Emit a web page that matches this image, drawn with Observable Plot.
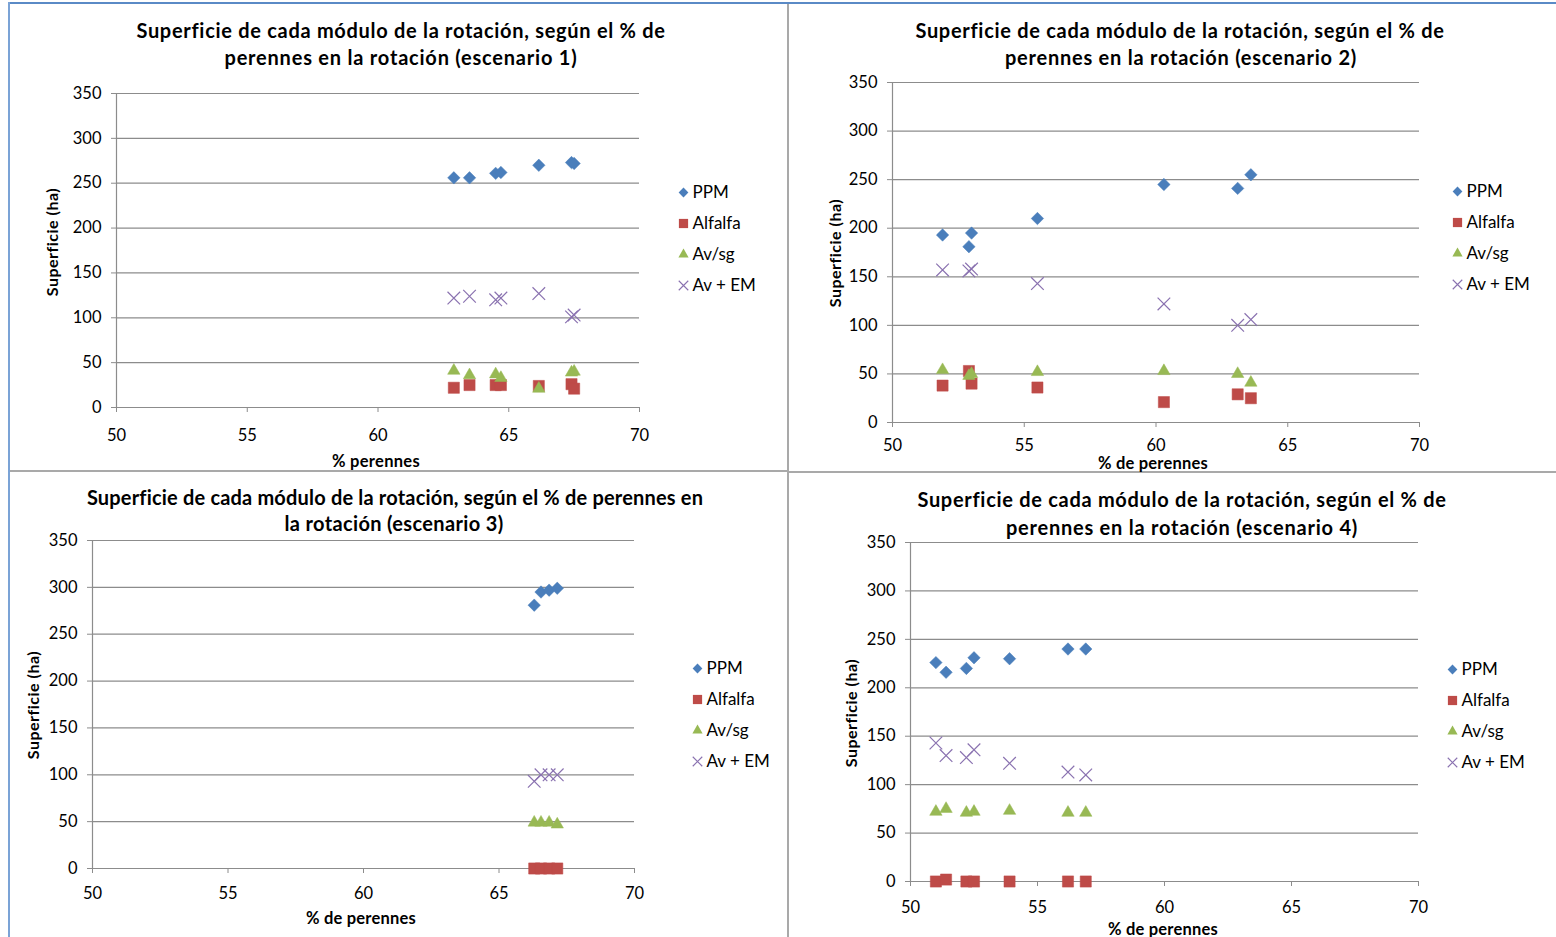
<!DOCTYPE html>
<html><head><meta charset="utf-8">
<script src="https://cdn.jsdelivr.net/npm/d3@7"></script>
<script src="https://cdn.jsdelivr.net/npm/@observablehq/plot@0.6"></script>
<style>
body{margin:0;background:#fff;width:1556px;height:937px;overflow:hidden;position:relative;font-family:Lato,"Open Sans",sans-serif;color:#000;}
.abs{position:absolute;}
.tline{position:absolute;font-weight:bold;font-size:20px;white-space:nowrap;transform:translate(-50%,-50%);line-height:1;}
.xlab{position:absolute;font-weight:bold;font-size:16.5px;white-space:nowrap;transform:translate(-50%,-50%);line-height:1;}
.ylab{position:absolute;font-weight:bold;font-size:16px;white-space:nowrap;transform:translate(-50%,-50%) rotate(-90deg);line-height:1;}
svg{position:absolute;overflow:visible;}
</style>
</head><body>
<div class="abs" style="left:8px;top:2px;width:1548px;height:2px;background:#5a8ac6"></div>
<div class="abs" style="left:8px;top:2px;width:2px;height:935px;background:#7ba3d6"></div>
<div class="abs" style="left:787px;top:4px;width:2px;height:933px;background:#a9a9a9"></div>
<div class="abs" style="left:10px;top:470px;width:777px;height:2px;background:#a9a9a9"></div>
<div class="abs" style="left:789px;top:471px;width:767px;height:2px;background:#a9a9a9"></div>
<script>
// ---- data ----
const seriesNames = ["PPM", "Alfalfa", "Av/sg", "Av + EM"];
const seriesColors = ["#4a7ebb", "#be4b48", "#98b954", "#8a72b0"];
const seriesSymbols = ["diamond2", "square", "triangle", "times"];
const xTicks = [50, 55, 60, 65, 70];
const yTicks = [0, 50, 100, 150, 200, 250, 300, 350];

const titles = [
  ["Superficie de cada módulo de la rotación, según el % de", "perennes en la rotación (escenario 1)"],
  ["Superficie de cada módulo de la rotación, según el % de", "perennes en la rotación (escenario 2)"],
  ["Superficie de cada módulo de la rotación, según el % de perennes en", "la rotación (escenario 3)"],
  ["Superficie de cada módulo de la rotación, según el % de", "perennes en la rotación (escenario 4)"]
];
const xLabels = ["% perennes", "% de perennes", "% de perennes", "% de perennes"];
const yLabel = "Superficie  (ha)";

// escenario 1
const x1 = [62.9, 63.5, 64.5, 64.7, 66.15, 67.4, 67.5];
const ppm1 = [256, 256, 261, 262, 270, 273, 272];
const alf1 = [22, 25, 25, 25, 24, 26, 21];
const avsg1 = [41, 36, 37, 33, 21, 39, 40];
const avem1 = [122, 124, 120, 122, 127, 101, 103];
// escenario 2
const x2 = [51.9, 52.9, 53.0, 55.5, 60.3, 63.1, 63.6];
const ppm2 = [193, 181, 195, 210, 245, 241, 255];
const alf2 = [38, 53, 40, 36, 21, 29, 25];
const avsg2 = [54, 48, 50, 52, 53, 50, 41];
const avem2 = [157, 156, 158, 143, 122, 100, 106];
// escenario 3
const x3 = [66.3, 66.55, 66.85, 67.15];
const ppm3 = [281, 295, 297, 299];
const alf3 = [0, 0, 0, 0];
const avsg3 = [49, 49, 49, 47];
const avem3 = [93, 100, 100, 100];
// escenario 4
const x4 = [51.0, 51.4, 52.2, 52.5, 53.9, 56.2, 56.9];
const ppm4 = [226, 216, 220, 231, 230, 240, 240];
const alf4 = [0, 2, 0, 0, 0, 0, 0];
const avsg4 = [72, 75, 71, 72, 73, 71, 71];
const avem4 = [143, 130, 128, 136, 122, 113, 110];

// ---- layout ----
const panels = [
  {xs: x1, ys: [ppm1, alf1, avsg1, avem1], f: {x0: 116, x1: 639, y0: 93, y1: 407}, xpad: 17, leg: {x: 683, y: 192},
   title: [{x: 401, y: 30, w: 529}, {x: 401, y: 57, w: 353}], xl: {x: 376, y: 461, w: 88}, yl: {x: 52, y: 242, w: 109}},
  {xs: x2, ys: [ppm2, alf2, avsg2, avem2], f: {x0: 892, x1: 1419, y0: 82, y1: 422}, xpad: 12, leg: {x: 1457, y: 191},
   title: [{x: 1180, y: 30, w: 529}, {x: 1181, y: 57, w: 352}], xl: {x: 1153, y: 463, w: 110}, yl: {x: 835, y: 253, w: 109}},
  {xs: x3, ys: [ppm3, alf3, avsg3, avem3], f: {x0: 92, x1: 634, y0: 540, y1: 868}, xpad: 14, leg: {x: 697, y: 668},
   title: [{x: 395, y: 497, w: 616}, {x: 394, y: 523, w: 219}], xl: {x: 361, y: 918, w: 110}, yl: {x: 33, y: 705, w: 109}},
  {xs: x4, ys: [ppm4, alf4, avsg4, avem4], f: {x0: 910, x1: 1418, y0: 542, y1: 881}, xpad: 15, leg: {x: 1452, y: 669},
   title: [{x: 1182, y: 499, w: 529}, {x: 1182, y: 527, w: 352}], xl: {x: 1163, y: 929, w: 110}, yl: {x: 851, y: 713, w: 109}}
];

const dataR = [5.6, 6.3, 4.6, 5.8];
const legR = [4.4, 5.2, 3.8, 4.4];
const gridColor = "#8c8c8c";

function fitText(el, target) {
  const w = el.getBoundingClientRect().width;
  const n = el.textContent.length;
  if (n > 1) el.style.letterSpacing = ((target - w) / n) + "px";
}

function dotMark(rows, i, r) {
  const common = {symbol: seriesSymbols[i], r};
  if (seriesSymbols[i] === "times") return Plot.dot(rows, {...common, x: "x", y: "y", stroke: seriesColors[i], strokeWidth: 1.2, fill: "none"});
  return Plot.dot(rows, {...common, x: "x", y: "y", fill: seriesColors[i], stroke: seriesColors[i], strokeWidth: 0.5});
}

panels.forEach((p, k) => {
  const padL = 120, padR = 20, padT = 20, padB = 40;
  const W = (p.f.x1 - p.f.x0) + padL + padR;
  const H = (p.f.y1 - p.f.y0) + padT + padB;
  const marks = [
    Plot.gridY(yTicks, {stroke: gridColor, strokeOpacity: 1, strokeWidth: 1.2}),
    Plot.ruleX([50], {stroke: gridColor, strokeWidth: 1.2}),
    Plot.axisY(yTicks, {tickSize: 5, tickPadding: 10, stroke: gridColor, color: "#000", fill: "#000", fontSize: 16.5, label: null}),
    Plot.axisX(xTicks, {tickSize: 5, tickPadding: p.xpad, stroke: gridColor, color: "#000", fill: "#000", fontSize: 16.5, label: null})
  ];
  seriesNames.forEach((s, i) => {
    const rows = p.xs.map((x, j) => ({x, y: p.ys[i][j], s}));
    marks.push(dotMark(rows, i, dataR[i]));
  });
  const svg = Plot.plot({
    width: W, height: H,
    marginLeft: padL, marginRight: padR, marginTop: padT, marginBottom: padB,
    x: {domain: [50, 70]},
    y: {domain: [0, 350]},
    style: {fontFamily: "Lato, sans-serif", fontSize: "16.5px", background: "transparent", color: "#000"},
    marks
  });
  svg.style.left = (p.f.x0 - padL) + "px";
  svg.style.top = (p.f.y0 - padT) + "px";
  document.body.appendChild(svg);

  // legend
  const lm = 8, lt = 10, gap = 31;
  const legMarks = [];
  seriesNames.forEach((s, i) => {
    legMarks.push(Plot.dot([s], {y: d => d, frameAnchor: "left", symbol: seriesSymbols[i], r: legR[i],
      ...(seriesSymbols[i] === "times" ? {stroke: seriesColors[i], strokeWidth: 1.1, fill: "none"} : {fill: seriesColors[i]})}));
  });
  legMarks.push(Plot.text(seriesNames, {y: d => d, text: d => d, frameAnchor: "left", dx: 9, textAnchor: "start", fontSize: 17, fill: "#000"}));
  const leg = Plot.plot({
    width: 110, height: gap * 3 + lt * 2,
    marginLeft: lm, marginRight: 0, marginTop: lt, marginBottom: lt,
    y: {type: "point", domain: seriesNames, range: [lt, lt + gap * 3], padding: 0, axis: null},
    style: {fontFamily: "Lato, sans-serif", fontSize: "17px", background: "transparent"},
    marks: legMarks
  });
  leg.style.left = (p.leg.x - lm) + "px";
  leg.style.top = (p.leg.y - lt) + "px";
  document.body.appendChild(leg);

  // titles and axis labels
  titles[k].forEach((line, li) => {
    const t = document.createElement("div");
    t.className = "tline";
    t.style.left = p.title[li].x + "px";
    t.style.top = p.title[li].y + "px";
    t.textContent = line;
    document.body.appendChild(t);
    fitText(t, p.title[li].w);
  });

  const xl = document.createElement("div");
  xl.className = "xlab";
  xl.style.left = p.xl.x + "px"; xl.style.top = p.xl.y + "px";
  xl.textContent = xLabels[k];
  document.body.appendChild(xl);
  fitText(xl, p.xl.w);

  const yl = document.createElement("div");
  yl.className = "ylab";
  yl.style.left = p.yl.x + "px"; yl.style.top = p.yl.y + "px";
  yl.textContent = yLabel;
  document.body.appendChild(yl);
  yl.style.letterSpacing = ((p.yl.w - yl.offsetWidth) / yLabel.length) + "px";
});
</script>
</body></html>
